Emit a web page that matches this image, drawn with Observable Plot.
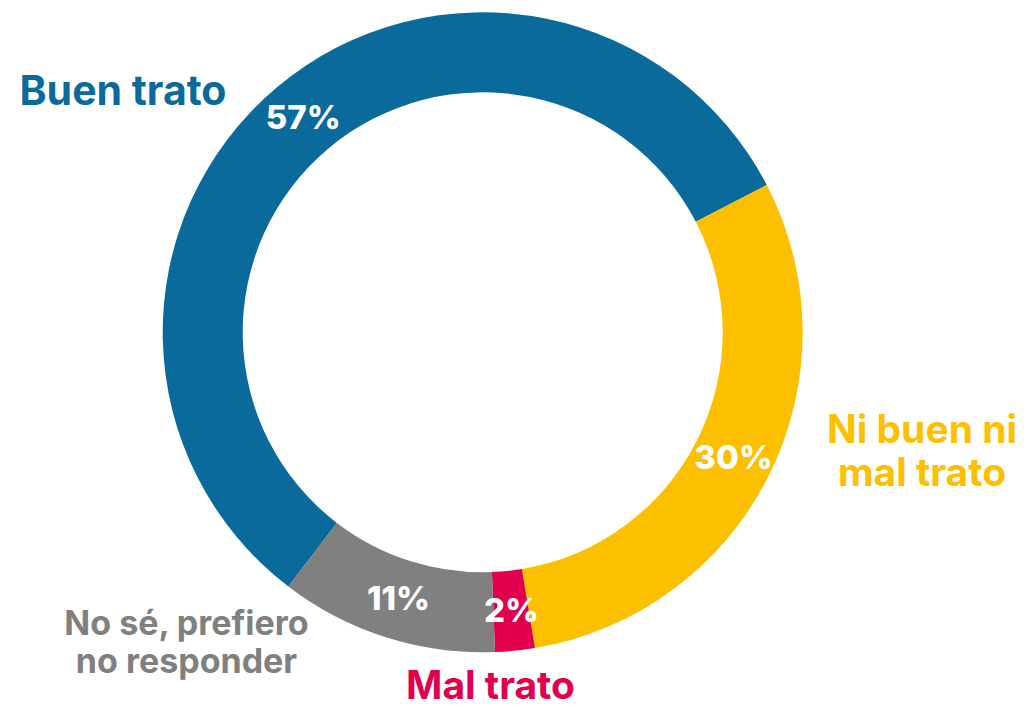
<!DOCTYPE html>
<html>
<head>
<meta charset="utf-8">
<script src="https://cdn.jsdelivr.net/npm/d3@7"></script>
<script src="https://cdn.jsdelivr.net/npm/@observablehq/plot@0.6"></script>
<style>
  html, body { margin: 0; padding: 0; background: #ffffff; }
  #chart svg { display: block; }
</style>
</head>
<body>
<div id="chart"></div>
<script>
// ---- data ----
const categories = ["Buen trato", "Ni buen ni mal trato", "Mal trato", "No sé, prefiero no responder"];
const values = [57, 30, 2, 11];
const pctLabels = ["57%", "30%", "2%", "11%"];
const categoryLabels = ["Buen trato", "Ni buen ni\nmal trato", "Mal trato", "No sé, prefiero\nno responder"];
const colors = ["#0b6a9c", "#fdc000", "#e0004d", "#808080"];

// ---- layout ----
const W = 1028, H = 708;
const cx = 482.7, cy = 332.3, outerR = 320, innerR = 240;
const startDeg = -142.6;
const font = "Inter, 'Open Sans', sans-serif";
// outer label anchors (pixel positions) and sizes
const outerLabelPos = [
  {x: 122.5, y: 90, size: 41},
  {x: 921.5, y: 450, size: 39},
  {x: 490, y: 685, size: 39},
  {x: 186, y: 641, size: 34}
];

const rows = categories.map((c, i) => ({
  category: c, value: values[i], pct: pctLabels[i], label: categoryLabels[i]
}));

const pie = d3.pie().value(d => d.value).sort(null)
  .startAngle(startDeg * Math.PI / 180)
  .endAngle(startDeg * Math.PI / 180 + 2 * Math.PI);
const arcs = pie(rows);
const arcGen = d3.arc().innerRadius(innerR).outerRadius(outerR);
arcs.forEach((a, i) => {
  const [dx, dy] = arcGen.centroid(a);
  a.data.cx = cx + dx;
  a.data.cy = cy + dy;
  a.data.ox = outerLabelPos[i].x;
  a.data.oy = outerLabelPos[i].y;
  a.data.size = outerLabelPos[i].size;
});

const slices = (index, scales) => {
  const g = d3.create("svg:g");
  const x0 = scales.x(cx), y0 = scales.y(cy);
  g.attr("transform", `translate(${x0},${y0})`);
  g.selectAll("path").data(arcs).join("path")
    .attr("d", arcGen)
    .attr("fill", d => scales.color(d.data.category));
  return g.node();
};

const chart = Plot.plot({
  width: W,
  height: H,
  margin: 0,
  x: {domain: [0, W], range: [0, W], axis: null},
  y: {domain: [0, H], range: [0, H], axis: null},
  color: {domain: categories, range: colors},
  style: {background: "#ffffff"},
  marks: [
    slices,
    Plot.text(rows, {
      x: "cx", y: "cy", text: "pct",
      fill: "#ffffff", fontSize: 33, fontWeight: 800, fontFamily: font
    }),
    Plot.text(rows, {
      x: "ox", y: "oy", text: "label", fill: "category",
      fontSize: "size", fontWeight: 700, fontFamily: font, lineHeight: 1.12
    })
  ]
});

document.getElementById("chart").appendChild(chart);
</script>
</body>
</html>
